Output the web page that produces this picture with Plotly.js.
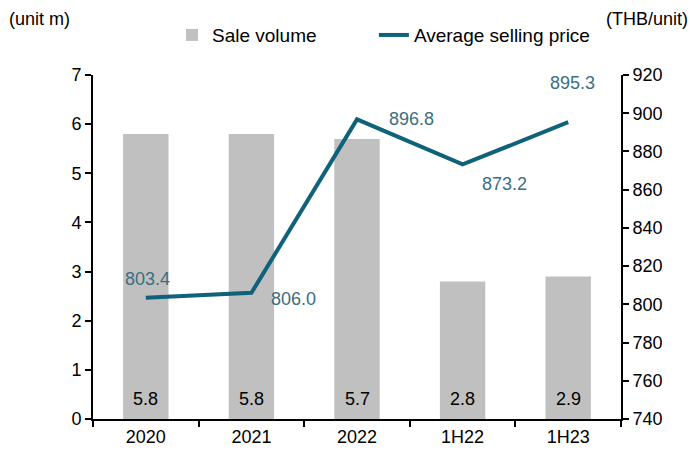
<!DOCTYPE html>
<html>
<head>
<meta charset="utf-8">
<script src="https://cdn.plot.ly/plotly-3.0.1.min.js"></script>
<style>html,body{margin:0;padding:0;background:#fff;}#chart{width:690px;height:457px;}</style>
</head>
<body>
<div id="chart"></div>
<script>
const categories = ["2020", "2021", "2022", "1H22", "1H23"];
const saleVolume = [5.8, 5.8, 5.7, 2.8, 2.9];
const avgPrice = [803.4, 806.0, 896.8, 873.2, 895.3];
const volumeLabels = ["5.8", "5.8", "5.7", "2.8", "2.9"];
const priceLabels = ["803.4", "806.0", "896.8", "873.2", "895.3"];
// label offsets (px) for price labels
const priceLabelShiftX = [2, 42, 54, 42, 4];
const priceLabelShiftY = [19, -6, 0, -20, 39];

const FONT = "Liberation Sans, Arial, sans-serif";
const LINE_COLOR = "#0F6279";
const LABEL_COLOR = "#3B6E80";

const traces = [
  {
    type: "bar",
    name: "Sale volume",
    x: categories,
    y: saleVolume,
    marker: {color: "#C0C0C0"},
    width: 0.43,
    yaxis: "y",
    legend: "legend",
    hoverinfo: "skip"
  },
  {
    type: "scatter",
    mode: "lines",
    name: "Average selling price",
    x: categories,
    y: avgPrice,
    line: {color: LINE_COLOR, width: 4},
    yaxis: "y2",
    legend: "legend2",
    hoverinfo: "skip"
  }
];

const annotations = [];
categories.forEach((c, i) => {
  annotations.push({
    x: i, y: 0, xref: "x", yref: "y",
    text: volumeLabels[i], showarrow: false,
    yshift: 20, font: {family: FONT, size: 18, color: "#000"}
  });
  annotations.push({
    x: i, y: avgPrice[i], xref: "x", yref: "y2",
    text: priceLabels[i], showarrow: false,
    xshift: priceLabelShiftX[i], yshift: priceLabelShiftY[i],
    font: {family: FONT, size: 18, color: LABEL_COLOR}
  });
});
annotations.push({
  text: "(unit m)", xref: "paper", yref: "paper",
  x: -0.162, y: 1.163, xanchor: "left", yanchor: "middle",
  showarrow: false, font: {family: FONT, size: 18, color: "#000"}
});
annotations.push({
  text: "(THB/unit)", xref: "paper", yref: "paper",
  x: 1.13, y: 1.163, xanchor: "right", yanchor: "middle",
  showarrow: false, font: {family: FONT, size: 18, color: "#000"}
});

const legendCommon = {
  orientation: "h", y: 1.116, xanchor: "left", yanchor: "middle",
  font: {family: FONT, size: 19, color: "#000"},
  bgcolor: "rgba(0,0,0,0)"
};

const layout = {
  width: 690, height: 457,
  margin: {l: 93, r: 69, t: 75, b: 38},
  paper_bgcolor: "#fff", plot_bgcolor: "#fff",
  font: {family: FONT, size: 18, color: "#000"},
  showlegend: true,
  legend: Object.assign({x: 0.1496}, legendCommon),
  legend2: Object.assign({x: 0.532}, legendCommon),
  xaxis: {
    type: "category",
    categoryorder: "array", categoryarray: categories,
    range: [-0.5, categories.length - 0.5],
    showline: true, linecolor: "#000", linewidth: 2,
    ticks: "outside", tickson: "boundaries", ticklen: 6, tickwidth: 2, tickcolor: "#000",
    showgrid: false, zeroline: false,
    tickfont: {family: FONT, size: 18, color: "#000"}
  },
  yaxis: {
    range: [0, 7], dtick: 1, tick0: 0,
    showline: true, linecolor: "#000", linewidth: 2,
    ticks: "outside", ticklen: 6, tickwidth: 2, tickcolor: "#000",
    showgrid: false, zeroline: false,
    tickfont: {family: FONT, size: 18, color: "#000"}
  },
  yaxis2: {
    range: [740, 920], dtick: 20, tick0: 740,
    overlaying: "y", side: "right",
    showline: true, linecolor: "#000", linewidth: 2,
    ticks: "outside", ticklen: 6, tickwidth: 2, tickcolor: "#000",
    showgrid: false, zeroline: false,
    tickfont: {family: FONT, size: 18, color: "#000"}
  },
  annotations: annotations
};

Plotly.newPlot("chart", traces, layout, {displayModeBar: false, staticPlot: true});
</script>
</body>
</html>
